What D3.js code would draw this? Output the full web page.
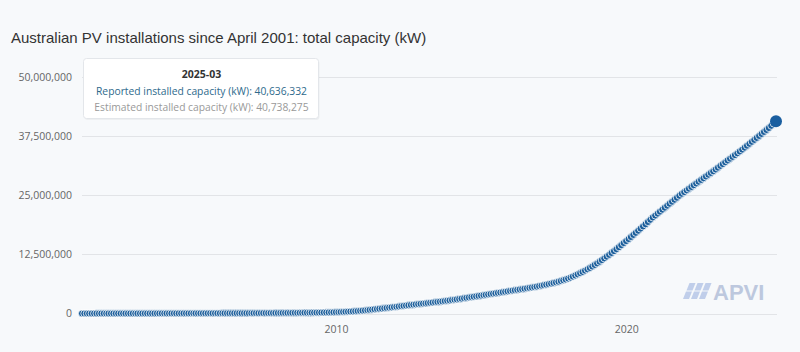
<!DOCTYPE html>
<html>
<head>
<meta charset="utf-8">
<script src="https://cdn.jsdelivr.net/npm/d3@7"></script>
<style>
  body { margin: 0; background: #f7f9fb; }
  svg { display: block; }
</style>
</head>
<body>
<svg id="chart"></svg>
<script>
// monthly reported installed capacity, MW, starting April 2001
const startMonth = [2001, 3];
const reportedMW = [
  2, 3, 3, 4, 5, 5, 6, 7, 8,                                                     // 2001 Apr-Dec
  8, 9, 10, 10, 11, 12, 13, 13, 14, 15, 16, 17,                                  // 2002
  17, 18, 19, 20, 21, 22, 23, 23, 24, 25, 26, 27,                                // 2003
  28, 29, 30, 31, 32, 33, 34, 35, 36, 38, 39, 40,                                // 2004
  41, 42, 44, 45, 46, 48, 49, 50, 52, 53, 55, 56,                                // 2005
  58, 59, 61, 62, 64, 66, 67, 69, 71, 73, 74, 76,                                // 2006
  78, 80, 82, 84, 87, 90, 93, 96, 99, 103, 107, 111,                             // 2007
  115, 119, 123, 127, 131, 135, 139, 144, 149, 155, 162, 170,                    // 2008
  172, 176, 181, 187, 193, 200, 208, 216, 225, 236, 248, 262,                    // 2009
  280, 300, 322, 345, 370, 398, 428, 460, 495, 532, 572, 615,                    // 2010
  660, 715, 775, 840, 900, 955, 1010, 1065, 1120, 1180, 1245, 1310,              // 2011
  1370, 1430, 1495, 1560, 1625, 1690, 1750, 1810, 1870, 1930, 1990, 2050,        // 2012
  2100, 2150, 2210, 2270, 2330, 2390, 2450, 2510, 2570, 2640, 2710, 2780,        // 2013
  2860, 2930, 3000, 3080, 3160, 3240, 3320, 3400, 3480, 3560, 3640, 3720,        // 2014
  3800, 3880, 3960, 4040, 4120, 4200, 4280, 4360, 4440, 4520, 4600, 4690,        // 2015
  4770, 4850, 4930, 5010, 5090, 5170, 5250, 5330, 5420, 5510, 5600, 5700,        // 2016
  5800, 5900, 6000, 6110, 6220, 6340, 6460, 6590, 6730, 6880, 7040, 7210,        // 2017
  7400, 7600, 7820, 8050, 8290, 8540, 8800, 9070, 9350, 9640, 9950, 10270,       // 2018
  10600, 10950, 11300, 11660, 12030, 12410, 12800, 13200, 13610, 14030, 14460, 14900, // 2019
  15320, 15750, 16180, 16620, 17060, 17510, 17960, 18420, 18880, 19350, 19830, 20310, // 2020
  20720, 21130, 21540, 21960, 22380, 22800, 23220, 23640, 24060, 24480, 24900, 25320, // 2021
  25680, 26040, 26400, 26760, 27130, 27500, 27870, 28240, 28610, 28980, 29350, 29720, // 2022
  30080, 30460, 30840, 31220, 31600, 31980, 32360, 32740, 33120, 33500, 33880, 34260, // 2023
  34660, 35070, 35480, 35890, 36300, 36710, 37130, 37550, 37970, 38390, 38810, 39230, // 2024
  39700, 40170, 40636.332                                                         // 2025 Jan-Mar
];
const yTicks = [0, 12500000, 25000000, 37500000, 50000000];
const xTickYears = [2010, 2020];

const titleText = "Australian PV installations since April 2001: total capacity (kW)";
const tipDate = "2025-03";
const tipReported = 40636332;
const tipEstimated = 40738275;

const width = 800, height = 352;
const margin = { top: 77, right: 24, bottom: 38.5, left: 82 };

const svg = d3.select("#chart")
    .attr("width", width)
    .attr("height", height);

svg.append("rect")
    .attr("width", width)
    .attr("height", height)
    .attr("fill", "#f7f9fb");

const data = reportedMW.map((v, i) => ({
    date: d3.timeMonth.offset(new Date(startMonth[0], startMonth[1], 1), i),
    value: v * 1000
}));

const x = d3.scaleTime()
    .domain(d3.extent(data, d => d.date))
    .range([margin.left, width - margin.right]);

const y = d3.scaleLinear()
    .domain([0, 50000000])
    .range([height - margin.bottom, margin.top]);

// title
svg.append("text")
    .attr("x", 11)
    .attr("y", 42.5)
    .attr("fill", "#333")
    .style("font", "15px 'Liberation Sans', Arial, sans-serif")
    .text(titleText);

// grid lines
svg.append("g")
    .selectAll("line")
    .data(yTicks)
    .join("line")
    .attr("x1", margin.left)
    .attr("x2", width - margin.right + 1)
    .attr("y1", d => Math.round(y(d)) + 0.5)
    .attr("y2", d => Math.round(y(d)) + 0.5)
    .attr("stroke", "#e2e4e7")
    .attr("stroke-width", 1);

// y axis labels
const yAxis = svg.append("g")
    .attr("transform", `translate(${margin.left - 10},0)`)
    .call(d3.axisLeft(y).tickValues(yTicks).tickSize(0).tickPadding(0).tickFormat(d3.format(",")));
yAxis.select(".domain").remove();
yAxis.selectAll("text")
    .attr("fill", "#666")
    .style("font", "10.5px 'Open Sans', sans-serif");

// x axis labels
const xAxis = svg.append("g")
    .attr("transform", `translate(0,${height - margin.bottom})`)
    .call(d3.axisBottom(x)
        .tickValues(xTickYears.map(yr => new Date(yr, 0, 1)))
        .tickSize(0)
        .tickPadding(12)
        .tickFormat(d3.timeFormat("%Y")));
xAxis.select(".domain").remove();
xAxis.selectAll("text")
    .attr("fill", "#666")
    .style("font", "10.5px 'Open Sans', sans-serif");

// watermark logo
const logo = svg.append("g")
    .attr("transform", "translate(683,283)")
    .attr("opacity", 0.6);
[0, 1, 2].forEach(col => {
    [0, 1].forEach(row => {
        const x0 = col * 8 + (1 - row) * 3.5, y0 = row * 8.5;
        logo.append("path")
            .attr("d", `M${x0 + 3},${y0} L${x0 + 9},${y0} L${x0 + 6},${y0 + 7.5} L${x0},${y0 + 7.5} Z`)
            .attr("fill", "#9cb3e0");
    });
});
logo.append("text")
    .attr("x", 30)
    .attr("y", 17)
    .attr("fill", "#98a9cc")
    .style("font", "bold 22px 'Liberation Sans', Arial, sans-serif")
    .text("APVI");

// series line + markers
const line = d3.line()
    .x(d => x(d.date))
    .y(d => y(d.value));

svg.append("path")
    .datum(data)
    .attr("d", line)
    .attr("fill", "none")
    .attr("stroke", "#1b5e9b")
    .attr("stroke-width", 2);

svg.append("g")
    .selectAll("circle")
    .data(data.slice(0, -1))
    .join("circle")
    .attr("cx", d => x(d.date))
    .attr("cy", d => y(d.value))
    .attr("r", 3.6)
    .attr("fill", "#1b5e9b")
    .attr("stroke", "#fff")
    .attr("stroke-width", 0.8);

const last = data[data.length - 1];
svg.append("circle")
    .attr("cx", x(last.date))
    .attr("cy", y(last.value))
    .attr("r", 6)
    .attr("fill", "#1a5fa0");

// tooltip
const tip = svg.append("g")
    .attr("transform", "translate(83.5,58.5)");
tip.append("rect")
    .attr("x", 1).attr("y", 1.5)
    .attr("width", 235).attr("height", 60)
    .attr("rx", 3)
    .attr("fill", "rgba(0,0,0,0.04)");
tip.append("rect")
    .attr("width", 235).attr("height", 60)
    .attr("rx", 3)
    .attr("fill", "#fff")
    .attr("stroke", "#e3e6ea");
const fmt = d3.format(",");
tip.append("text")
    .attr("x", 118).attr("y", 19)
    .attr("text-anchor", "middle")
    .attr("fill", "#333")
    .style("font", "bold 10.5px 'Open Sans', sans-serif")
    .text(tipDate);
tip.append("text")
    .attr("x", 118).attr("y", 36.5)
    .attr("text-anchor", "middle")
    .attr("fill", "#2e6a8c")
    .style("font", "10.3px 'Open Sans', sans-serif")
    .text(`Reported installed capacity (kW): ${fmt(tipReported)}`);
tip.append("text")
    .attr("x", 118).attr("y", 52.5)
    .attr("text-anchor", "middle")
    .attr("fill", "#999")
    .style("font", "10.3px 'Open Sans', sans-serif")
    .text(`Estimated installed capacity (kW): ${fmt(tipEstimated)}`);
</script>
</body>
</html>
